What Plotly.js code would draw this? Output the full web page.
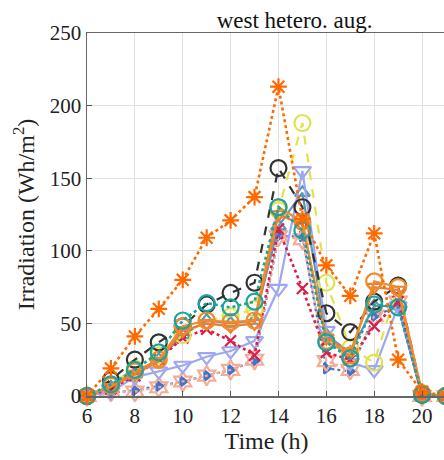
<!DOCTYPE html>
<html>
<head>
<meta charset="utf-8">
<script src="https://cdn.plot.ly/plotly-3.0.1.min.js"></script>
<style>
  html, body { margin: 0; padding: 0; overflow: hidden; background: #fff; }
  #chart { width: 460px; height: 460px; }
</style>
</head>
<body>
<div id="chart"></div>
<script>
// Hours of the day
const hours = [6, 7, 8, 9, 10, 11, 12, 13, 14, 15, 16, 17, 18, 19, 20, 21];

// Series values (Wh/m^2)
const starSeries      = [0, 19, 41, 60, 80, 109, 121, 137, 213, 122, 90, 69, 112, 25, 3, 0];
const blackSeries     = [0, 11, 25, 37, 48, 63, 71, 78, 157, 130, 57, 44, 65, 76, 1, 0];
const yellowSeries    = [0, 8, 19, 28, 42, 52, 55, 60, 128, 188, 78, 33, 23, 76, 1, 0];
const steelSeries     = [0, 6, 15, 25, 42, 52, 50, 52, 117, 140, 42, 30, 62, 62, 0, 0];
const pinkSeries      = [0, 3, 3, 6, 10, 14, 18, 25, 110, 108, 24, 18, 55, 65, 0, 0];
const blueSeries      = [0, 2, 4, 7, 10, 14, 18, 24, 110, 110, 19, 17, 55, 62, 0, 0];
const lightBlueSeries = [0, 3, 13, 17, 21, 27, 31, 38, 74, 155, 45, 23, 18, 62, 0, 0];
const redSeries       = [0, 5, 14, 25, 40, 46, 38, 28, 115, 74, 30, 25, 48, 65, 0, 0];
const orangeTriSeries = [0, 6, 15, 24, 45, 50, 48, 50, 125, 118, 40, 30, 75, 73, 1, 0];
const orangeSeries    = [0, 7, 17, 25, 48, 52, 51, 52, 130, 120, 38, 28, 79, 75, 2, 0];
const tealSeries      = [0, 8, 18, 30, 52, 64, 61, 65, 130, 114, 37, 26, 63, 61, 1, 0];

const xTicks = [6, 8, 10, 12, 14, 16, 18, 20];
const yTicks = [0, 50, 100, 150, 200, 250];

function tr(y, color, dash, symbol, size, lw) {
  return {
    x: hours, y: y, type: 'scatter', mode: 'lines+markers',
    line: {color: color, width: lw || 2.2, dash: dash},
    marker: {symbol: symbol, size: size, color: color, line: {color: color, width: 2.2}},
    showlegend: false, hoverinfo: 'skip', cliponaxis: false
  };
}

const data = [
  tr(blueSeries,      '#4673C8', 'dot',   'triangle-right', 9),
  tr(pinkSeries,      '#F4AC96', 'dot',   'hexagram-open', 15),
  tr(steelSeries,     '#5E97B0', 'solid', 'triangle-up-open', 13),
  tr(lightBlueSeries, '#9DA8EF', 'solid', 'triangle-down-open', 15),
  tr(redSeries,       '#D81E4C', 'dot',   'x-thin-open', 11, 2.6),
  tr(yellowSeries,    '#E1E34E', 'dash',  'circle-open', 16),
  tr(blackSeries,     '#333333', 'dash',  'circle-open', 16),
  tr(orangeTriSeries, '#E97F36', 'solid', 'triangle-down-open', 13),
  tr(orangeSeries,    '#F08B2E', 'solid', 'circle-open', 16),
  tr(tealSeries,      '#1BA39C', 'dot',   'circle-open', 16, 2.6),
  tr(starSeries,      '#FF6A00', 'dot',   'asterisk-open', 14, 2.6)
];

const fam = '"Liberation Serif", "DejaVu Serif", serif';

const layout = {
  width: 460, height: 460,
  margin: {l: 87, r: 14, t: 33, b: 64},
  paper_bgcolor: '#fff', plot_bgcolor: '#fff',
  font: {family: fam, color: '#222', size: 21},
  title: {
    text: 'west hetero. aug.',
    font: {family: fam, size: 23, color: '#111'},
    x: 266 / 460, xanchor: 'center', xref: 'paper',
    y: 1 - 20 / 460, yanchor: 'middle', yref: 'container'
  },
  xaxis: {
    range: [6, 21], tickvals: xTicks, ticktext: xTicks.map(String),
    ticks: 'inside', ticklen: 5, tickcolor: '#555', tickwidth: 1,
    showgrid: true, gridcolor: '#e0e0e0', gridwidth: 1,
    showline: true, linecolor: '#666', linewidth: 1.5, mirror: true,
    zeroline: false,
    tickfont: {family: fam, size: 21, color: '#222'},
    title: {text: 'Time (h)', font: {family: fam, size: 24, color: '#222'}, standoff: 4}
  },
  yaxis: {
    range: [0, 250], tickvals: yTicks, ticktext: yTicks.map(String),
    ticks: 'inside', ticklen: 5, tickcolor: '#555', tickwidth: 1,
    showgrid: true, gridcolor: '#e0e0e0', gridwidth: 1,
    showline: true, linecolor: '#666', linewidth: 1.5, mirror: true,
    zeroline: false,
    tickfont: {family: fam, size: 21, color: '#222'},
    title: {text: 'Irradiation (Wh/m<sup>2</sup>)', font: {family: fam, size: 24, color: '#222'}, standoff: 8}
  }
};

Plotly.newPlot('chart', data, layout, {staticPlot: true, displayModeBar: false});
</script>
</body>
</html>
